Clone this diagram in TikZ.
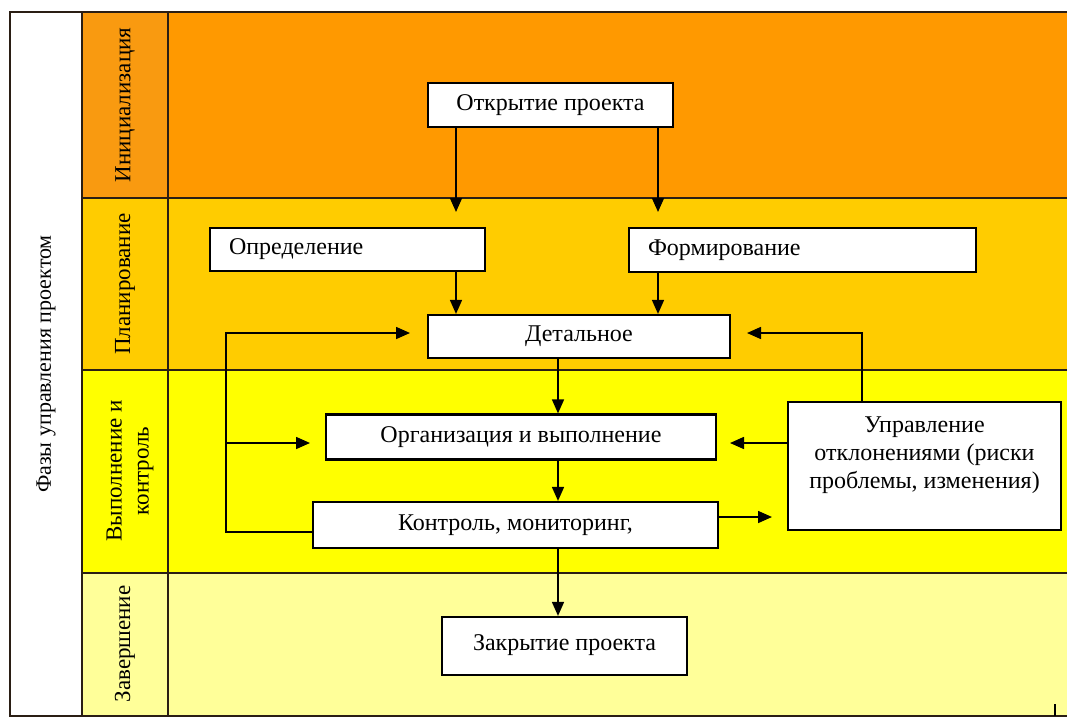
\documentclass[tikz,border=0pt]{standalone}
\usepackage{fontspec}
\setmainfont{Liberation Serif}
\usetikzlibrary{arrows.meta}
\definecolor{cInit}{HTML}{FF9900}
\definecolor{cInitL}{HTML}{F99A10}
\definecolor{cPlan}{HTML}{FFCC00}
\definecolor{cExec}{HTML}{FFFF00}
\definecolor{cClose}{HTML}{FFFF99}
\definecolor{gridc}{HTML}{2A1E14}
\tikzset{
  box/.style={draw=black, line width=2.2pt, fill=white, font=\fontsize{24}{28}\selectfont, inner sep=0pt},
  conn/.style={line width=1.6pt, draw=black},
  arr/.style={conn, -{Triangle[length=14pt,width=12pt]}},
  lane/.style={font=\fontsize{23}{27}\selectfont, rotate=90, align=center},
  gridline/.style={line width=1.5pt, draw=gridc}
}
\begin{document}
\begin{tikzpicture}[x=1pt,y=-1pt]
\useasboundingbox (0,0) rectangle (1067,720);
\fill[white] (0,0) rectangle (1067,720);
% lanes
\fill[cInit] (168,12) rectangle (1067,198);
\fill[cInitL] (82,12) rectangle (168,198);
\fill[cPlan] (82,198) rectangle (1067,370);
\fill[cExec] (82,370) rectangle (1067,573);
\fill[cClose] (82,573) rectangle (1067,716);
% grid
\draw[gridline] (1067,12) -- (10,12) -- (10,716) -- (1067,716);
\draw[gridline] (82,12) -- (82,716);
\draw[gridline] (168,12) -- (168,716);
\draw[gridline] (82,198) -- (1067,198);
\draw[gridline] (82,370) -- (1067,370);
\draw[gridline] (82,573) -- (1067,573);
\draw[line width=1.5pt] (1055,704) -- (1055,716);
% labels
\node[lane, font=\fontsize{22}{26}\selectfont] (phases) at (46,364) {Фазы управления проектом};
\node[lane] (linit) at (125,105) {Инициализация};
\node[lane] (lplan) at (125,284) {Планирование};
\node[lane] (lexec) at (130,471) {Выполнение и\\контроль};
\node[lane] (lclose) at (125,644) {Завершение};
% boxes
\node[box, minimum width=245pt, minimum height=44pt] (open) at (550.5,105) {Открытие проекта};
\node[box, minimum width=275pt, minimum height=43pt, align=left, text width=237pt] (def) at (347.5,249.5) {Определение};
\node[box, minimum width=347pt, minimum height=44pt, align=left, text width=309pt] (form) at (802.5,250) {Формирование};
\node[box, minimum width=302pt, minimum height=43pt] (det) at (579,336.5) {Детальное};
\node[box, minimum width=390pt, minimum height=45pt] (org) at (521,437) {Организация и выполнение};
\node[box, minimum width=405pt, minimum height=46pt] (ctrl) at (515.5,525) {Контроль, мониторинг,};
\node[box, minimum width=273pt, minimum height=128pt] (upr) at (924.5,466) {};
\node[font=\fontsize{24}{28}\selectfont, align=center, anchor=north] (uprtext) at (924.5,413) {Управление\\отклонениями (риски\\проблемы, изменения)};
\node[box, minimum width=245pt, minimum height=58pt] (close) at (564.5,646) {\raisebox{6pt}{Закрытие проекта}};
% coordinates
\coordinate (xa) at (456,212);
\coordinate (xb) at (658,212);
\coordinate (xc) at (558,0);
\coordinate (xd) at (862,333);
\coordinate (ld) at (747,333);
\coordinate (lv) at (226,532);
\coordinate (lt) at (226,333);
\coordinate (lte) at (410,333);
\coordinate (lb) at (226,443);
\coordinate (lbe) at (310,443);
\coordinate (ro) at (730,443);
\coordinate (rc) at (772,517);
% connectors
\draw[arr] (open.south -| xa) -- (xa);
\draw[arr] (open.south -| xb) -- (xb);
\draw[arr] (def.south -| xa) -- (det.north -| xa);
\draw[arr] (form.south -| xb) -- (det.north -| xb);
\draw[arr] (det.south -| xc) -- (org.north -| xc);
\draw[arr] (org.south -| xc) -- (ctrl.north -| xc);
\draw[arr] (ctrl.south -| xc) -- (close.north -| xc);
\draw[arr] (ctrl.west |- lv) -- (lv) -- (lt) -- (lte);
\draw[arr] (lb) -- (lbe);
\draw[arr] (upr.north -| xd) -- (xd) -- (ld);
\draw[arr] (upr.west |- ro) -- (ro);
\draw[arr] (ctrl.east |- rc) -- (rc);
\end{tikzpicture}
\end{document}
